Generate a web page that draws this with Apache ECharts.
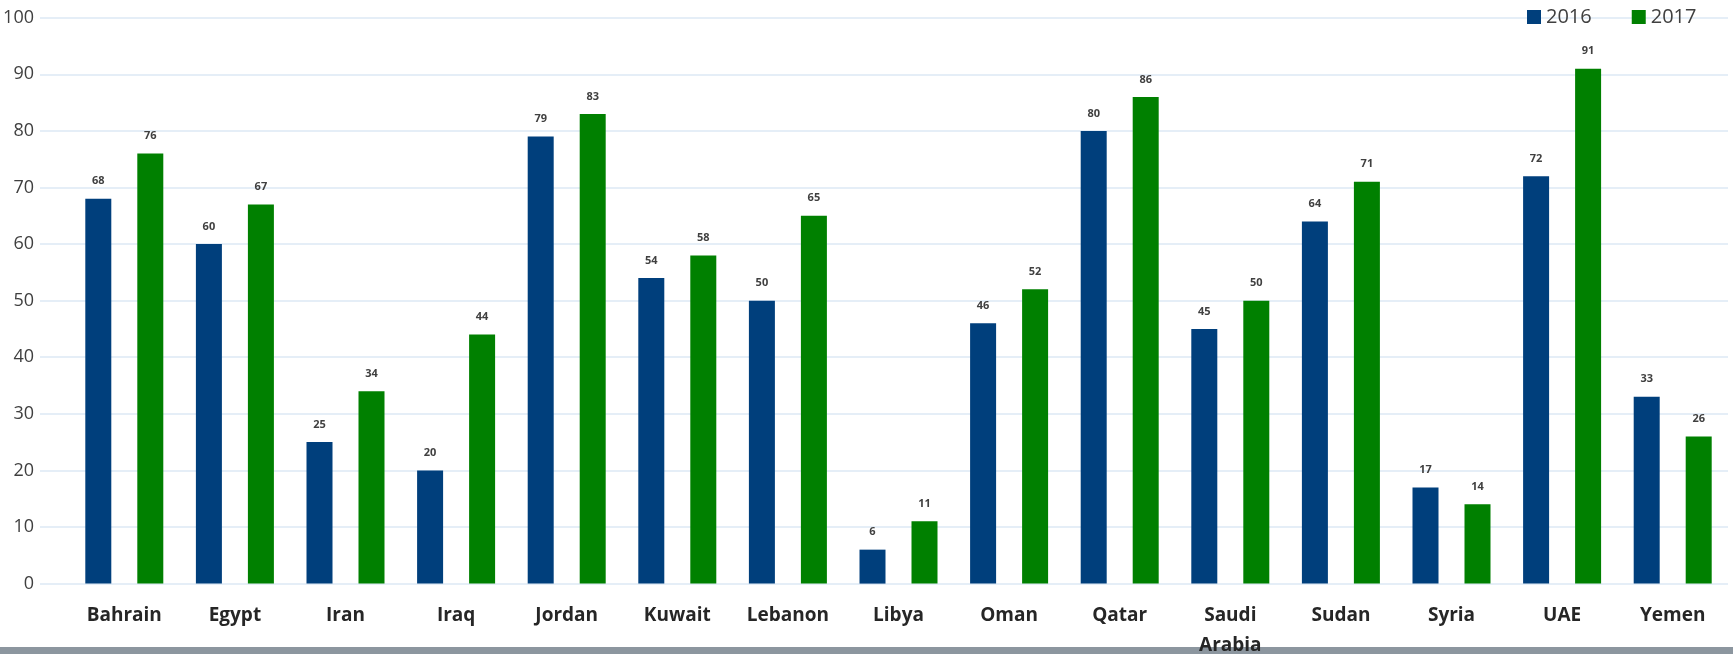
<!DOCTYPE html>
<html>
<head>
<meta charset="utf-8">
<script src="https://cdn.jsdelivr.net/npm/echarts@6/dist/echarts.min.js"></script>
<style>
  html, body { margin: 0; padding: 0; background: #ffffff; }
  #chart { width: 1733px; height: 654px; }
</style>
</head>
<body>
<div id="chart"></div>
<script>
// Country list and yearly scores
const countries = ['Bahrain', 'Egypt', 'Iran', 'Iraq', 'Jordan', 'Kuwait', 'Lebanon', 'Libya',
  'Oman', 'Qatar', 'Saudi\nArabia', 'Sudan', 'Syria', 'UAE', 'Yemen'];
const values2016 = [68, 60, 25, 20, 79, 54, 50, 6, 46, 80, 45, 64, 17, 72, 33];
const values2017 = [76, 67, 34, 44, 83, 58, 65, 11, 52, 86, 50, 71, 14, 91, 26];
const seriesNames = ['2016', '2017'];
const yTicks = { min: 0, max: 100, step: 10 };

const BLUE = '#003f7c';
const GREEN = '#008000';
const TEXT = '#404040';
const GRID_LINE = '#dde9f5';

const chart = echarts.init(document.getElementById('chart'), null, { renderer: 'canvas' });

const barLabel = {
  show: true,
  position: 'top',
  distance: 12,
  fontFamily: 'Open Sans',
  fontSize: 11,
  fontWeight: 'bold',
  color: TEXT
};

chart.setOption({
  animation: false,
  backgroundColor: '#ffffff',
  legend: {
    data: seriesNames,
    left: 1522,
    top: 2,
    icon: 'rect',
    itemWidth: 14,
    itemHeight: 14,
    itemGap: 40,
    textStyle: { fontFamily: 'Open Sans', fontSize: 20, color: TEXT }
  },
  graphic: [{
    type: 'rect',
    left: 0,
    top: 647,
    z: -10,
    shape: { width: 1733, height: 7 },
    style: { fill: '#8c969f' }
  }],
  grid: [
    // value grid: horizontal rules and tick labels
    { left: 40, right: 5, top: 17.7, bottom: 70.4, outerBoundsMode: 'none' },
    // category grid: bars and country names
    { left: 69, right: 5, top: 17.7, bottom: 70.4, outerBoundsMode: 'none' }
  ],
  xAxis: [
    { type: 'value', gridIndex: 0, show: false, min: 0, max: 1 },
    {
      type: 'category',
      gridIndex: 1,
      data: countries,
      axisLine: { show: false },
      axisTick: { show: false },
      axisLabel: {
        margin: 17,
        interval: 0,
        fontFamily: 'Open Sans',
        fontSize: 19,
        fontWeight: 'bold',
        color: '#262626',
        lineHeight: 30
      }
    }
  ],
  yAxis: [
    {
      type: 'value',
      gridIndex: 0,
      min: yTicks.min,
      max: yTicks.max,
      interval: yTicks.step,
      axisLine: { show: false },
      axisTick: { show: false },
      splitLine: { lineStyle: { color: GRID_LINE, width: 1.5 } },
      axisLabel: { margin: 6, fontFamily: 'Open Sans', fontSize: 18, color: TEXT }
    },
    {
      type: 'value',
      gridIndex: 1,
      min: yTicks.min,
      max: yTicks.max,
      interval: yTicks.step,
      show: false,
      splitLine: { show: false }
    }
  ],
  series: [
    {
      name: seriesNames[0],
      type: 'bar',
      xAxisIndex: 1,
      yAxisIndex: 1,
      data: values2016,
      barWidth: 26,
      barGap: '100%',
      itemStyle: { color: BLUE },
      label: barLabel
    },
    {
      name: seriesNames[1],
      type: 'bar',
      xAxisIndex: 1,
      yAxisIndex: 1,
      data: values2017,
      barWidth: 26,
      barGap: '100%',
      itemStyle: { color: GREEN },
      label: barLabel
    }
  ]
});
</script>
</body>
</html>
